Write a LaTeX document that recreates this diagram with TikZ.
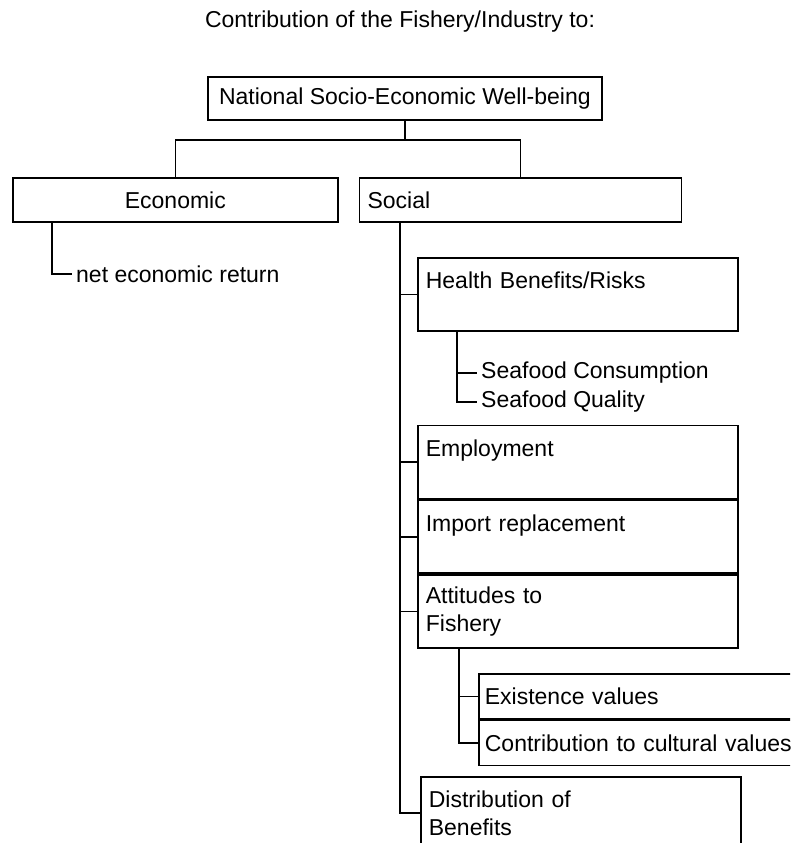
\documentclass[tikz,border=0pt]{standalone}
\usepackage{fontspec}
\setmainfont{Liberation Sans}
\setsansfont{Liberation Sans}
\usepackage{tikz}
\usetikzlibrary{positioning}
\newcommand{\chartfont}{\fontsize{23}{28}\selectfont}
\tikzset{
  topbox/.style={draw, line width=1.7pt, minimum height=43pt, minimum width=394pt, align=center,
    font=\sffamily\chartfont},
  catbox/.style={draw, line width=1.7pt, minimum height=44pt, align=center, font=\sffamily\chartfont},
  subbox/.style={draw, line width=1.7pt, minimum height=73pt, text width=304pt, inner xsep=8pt,
    align=left, font=\sffamily\chartfont},
  valbox/.style={draw, line width=1.7pt, minimum height=45pt, text width=330pt, inner xsep=6pt,
    align=left, font=\sffamily\chartfont},
  leaf/.style={inner xsep=4pt, anchor=west, font=\sffamily\chartfont},
  link/.style={draw, line width=1.7pt}
}

\begin{document}
\begin{tikzpicture}[x=1pt, y=-1pt]
\useasboundingbox (0,0) rectangle (790,843);
\fill[white] (0,0) rectangle (790,843);
\clip (0,0) rectangle (790,843);
\node[font=\sffamily\chartfont] (title) at (400,22) {Contribution of the Fishery/Industry to:};
\node[topbox, anchor=north west] (nat) at (207,76) {National Socio-Economic Well-being};
\node[catbox, minimum width=325pt, anchor=north west] (econ) at (12,177) {Economic};
\node[catbox, right=20pt of econ, text width=306pt, inner xsep=8pt, align=left] (social) {Social};
\node[leaf] (netret) at (72,274) {net economic return};
% social branches
\node[subbox, anchor=north west] (health) at (417,257) {Health Benefits/Risks\\\mbox{}};
\node[leaf] (consump) at (477,373) {Seafood Consumption};
\node[leaf] (quality) at (477,402) {Seafood Quality};
\node[subbox, below=93pt of health] (employ) {Employment\\\mbox{}};
\node[subbox, below=0pt of employ] (import) {Import replacement\\\mbox{}};
\node[subbox, below=0pt of import] (attitudes) {Attitudes to\\Fishery};
\node[valbox, anchor=north west] (exist) at (478,673) {Existence values};
\node[valbox, below=0pt of exist] (cultural) {Contribution to cultural values};
\node[subbox, below=127pt of attitudes, xshift=3pt] (distrib) {Distribution of\\Benefits};
% tree lines
\coordinate (bar) at ([yshift=-19pt]nat.south);
\draw[link] (nat.south) -- (bar);
\draw[link] (econ.north) |- (bar) -| (social.north);
\draw[link] ([xshift=40pt]econ.south west) |- (netret.west);
\draw[link] ([xshift=41pt]social.south west) |- (distrib.west);
\draw[link] ([xshift=41pt]social.south west) |- (health.west);
\draw[link] ([xshift=41pt]social.south west) |- (employ.west);
\draw[link] ([xshift=41pt]social.south west) |- (import.west);
\draw[link] ([xshift=41pt]social.south west) |- (attitudes.west);
\draw[link] ([xshift=40pt]health.south west) |- (quality.west);
\draw[link] ([xshift=40pt]health.south west) |- (consump.west);
\draw[link] ([xshift=42pt]attitudes.south west) |- (cultural.west);
\draw[link] ([xshift=42pt]attitudes.south west) |- (exist.west);
\end{tikzpicture}
\end{document}
